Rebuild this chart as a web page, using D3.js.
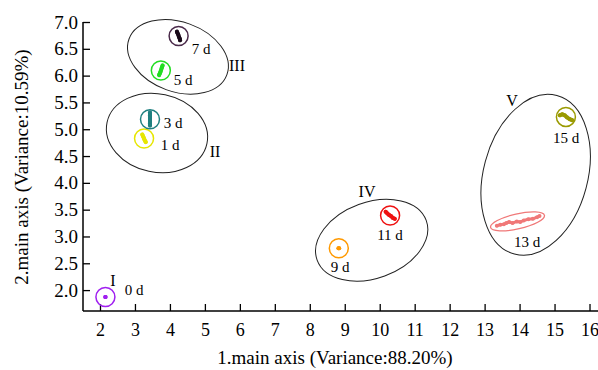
<!DOCTYPE html>
<html><head><meta charset="utf-8">
<script src="https://cdn.jsdelivr.net/npm/d3@7"></script>
<style>body{margin:0;background:#fff}svg{display:block}text{font-family:"Liberation Serif","Times New Roman",serif}</style>
</head><body><svg id="c" width="598" height="370"></svg>
<script>
// ---- data ----
const xTicks = [2,3,4,5,6,7,8,9,10,11,12,13,14,15,16];
const yTicks = [2.0,2.5,3.0,3.5,4.0,4.5,5.0,5.5,6.0,6.5,7.0];
const days = ["0 d","1 d","3 d","5 d","7 d","9 d","11 d","13 d","15 d"];
const colors = ["#a020f0","#e6e600","#1f8080","#22dd22","#1a0a1a","#ff9900","#ee1111","#f07878","#9a9a00"];
const ringColors = ["#a020f0","#e6e600","#1f8080","#22dd22","#4a2a4a","#ff9900","#ee1111","#f07878","#9a9a00"];
// sample scores per day (PC1, PC2)
const pc1 = [
  [2.15,2.16],
  [3.21,3.23,3.25,3.27,3.29,3.31],
  [3.43,3.43,3.43,3.43,3.43,3.43],
  [3.79,3.77,3.75,3.73,3.71,3.69],
  [4.20,4.22,4.24,4.26,4.28,4.29],
  [8.82,8.84],
  [10.17,10.22,10.27,10.32,10.37,10.43],
  [13.35,13.45,13.55,13.62,13.70,13.80,13.92,14.02,14.12,14.25,14.38,14.50,14.57],
  [15.15,15.22,15.29,15.36,15.43,15.50]
];
const pc2 = [
  [1.87,1.87],
  [4.90,4.87,4.84,4.81,4.78,4.76],
  [5.31,5.26,5.21,5.16,5.11,5.07],
  [6.19,6.15,6.11,6.07,6.04,6.01],
  [6.82,6.79,6.76,6.72,6.69,6.66],
  [2.78,2.78],
  [3.46,3.43,3.40,3.38,3.35,3.33],
  [3.20,3.22,3.23,3.25,3.27,3.25,3.28,3.27,3.30,3.32,3.33,3.36,3.38],
  [5.26,5.28,5.26,5.22,5.19,5.17]
];
// group outlines: roman label, centre (PC1, PC2), half-axes (PC1 units, PC2 units), tilt
const groupNames = ["I","II","III","IV","V"];
const groupCx = [null,3.63,4.23,9.77,14.46];
const groupCy = [null,4.93,6.35,2.93,4.15];
const groupRx = [null,1.46,1.49,1.66,1.49];
const groupRy = [null,0.73,0.65,0.71,1.53];
const groupTilt = [null,12,20,-20,15];

// ---- layout ----
const svg = d3.select("#c");
const x = d3.scaleLinear().domain([1.514,16.3]).range([83,600]);
const y = d3.scaleLinear().domain([1.61,7.0]).range([311,22]);
const tickFont = 18;

// axes
const xAxis = svg.append("g").attr("transform","translate(0,311)")
  .call(d3.axisBottom(x).tickValues(xTicks).tickFormat(d3.format("d")).tickSizeInner(-7).tickSizeOuter(0).tickPadding(12));
const yAxis = svg.append("g").attr("transform","translate(83,0)")
  .call(d3.axisLeft(y).tickValues(yTicks).tickFormat(d3.format(".1f")).tickSizeInner(-7).tickSizeOuter(0).tickPadding(5));
[xAxis,yAxis].forEach(g=>{
  g.select(".domain").attr("stroke","#000").attr("stroke-width",1.5);
  g.selectAll(".tick line").attr("stroke","#000").attr("stroke-width",1.3);
  g.selectAll(".tick text").attr("fill","#000").style("font-size",tickFont+"px").style("font-family","Liberation Serif, serif");
});
yAxis.selectAll(".tick text").style("font-size","19px");
xAxis.select(".domain").attr("d","M83,0H600");
yAxis.select(".domain").attr("d","M0,311V22");

svg.append("text").attr("x",335).attr("y",364).attr("text-anchor","middle")
  .style("font-size","19px").text("1.main axis (Variance:88.20%)");
svg.append("text").attr("transform","translate(28,167) rotate(-90)").attr("text-anchor","middle")
  .style("font-size","19px").text("2.main axis (Variance:10.59%)");

// group ellipses
const kx = x(1)-x(0), ky = y(0)-y(1);
groupNames.forEach((n,i)=>{
  if(groupCx[i]==null) return;
  svg.append("ellipse")
    .attr("transform",`translate(${x(groupCx[i])},${y(groupCy[i])}) rotate(${groupTilt[i]})`)
    .attr("rx",groupRx[i]*kx).attr("ry",groupRy[i]*ky)
    .attr("fill","none").attr("stroke","#222").attr("stroke-width",1);
});

// per-day rings & points
days.forEach((d,i)=>{
  const xs = pc1[i], ys = pc2[i];
  const mx = d3.mean(xs), my = d3.mean(ys);
  const pts = xs.map((v,j)=>[x(v),y(ys[j])]);
  const ext = d3.max(pts,p=>Math.hypot(p[0]-x(mx),p[1]-y(my)));
  if(i===7){
    const ang = Math.atan2(pts[pts.length-1][1]-pts[0][1],pts[pts.length-1][0]-pts[0][0])*180/Math.PI;
    svg.append("ellipse").attr("transform",`translate(${x(mx)},${y(my)}) rotate(${ang})`)
      .attr("rx",ext+5).attr("ry",7.5).attr("fill","none").attr("stroke",ringColors[i]).attr("stroke-width",1.3);
  } else {
    svg.append("circle").attr("cx",x(mx)).attr("cy",y(my)).attr("r",9.5)
      .attr("fill","none").attr("stroke",ringColors[i]).attr("stroke-width",1.5);
  }
  svg.append("path").attr("d",d3.line()(pts)).attr("fill","none")
    .attr("stroke",colors[i]).attr("stroke-width",i===7?3:4).attr("stroke-linecap","round").attr("stroke-linejoin","round");
  svg.selectAll(null).data(pts).join("circle").attr("cx",p=>p[0]).attr("cy",p=>p[1]).attr("r",2).attr("fill",colors[i]);
});

// labels (day labels offset from rings)
const dayLabelPos = [[134,295],[170,150],[173,128],[183,85],[201,54],[340,272],[390,240],[527,247],[566,143]];
days.forEach((d,i)=>{
  svg.append("text").attr("x",dayLabelPos[i][0]).attr("y",dayLabelPos[i][1]).attr("text-anchor","middle")
    .style("font-size","15px").text(d);
});
const romanPos = [[113,286],[215,157],[237,71],[367,197],[512,106]];
groupNames.forEach((n,i)=>{
  svg.append("text").attr("x",romanPos[i][0]).attr("y",romanPos[i][1]).attr("text-anchor","middle")
    .style("font-size","16px").text(n);
});
</script></body></html>
